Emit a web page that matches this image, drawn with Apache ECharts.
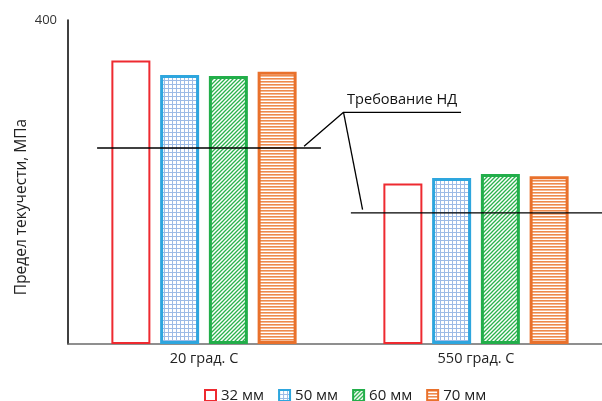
<!DOCTYPE html>
<html><head><meta charset="utf-8">
<script src="https://cdn.jsdelivr.net/npm/echarts@6/dist/echarts.min.js"></script>
<style>html,body{margin:0;padding:0;background:#fff}#c{width:602px;height:401px}</style>
</head><body><div id="c"></div>
<script>
const categories = ['20 град. С', '550 град. С'];
const seriesNames = ['32 мм', '50 мм', '60 мм', '70 мм'];
const s32 = [350, 198];
const s50 = [332, 205];
const s60 = [331, 210];
const s70 = [336, 207];
const requirement20 = [[0.107, 242], [0.93, 242]];
const requirement550 = [[1.04, 162], [1.97, 162]];
const leaderA = [[0.868, 244], [1.013, 286], [1.445, 286]];
const leaderB = [[1.013, 286], [1.083, 166]];
const annotationText = 'Требование НД';
const yAxisTitle = 'Предел текучести, МПа';
const yTicks = [400];

function pattern(w, h, draw) {
  const c = document.createElement('canvas');
  c.width = w; c.height = h;
  const g = c.getContext('2d');
  g.fillStyle = '#fff'; g.fillRect(0, 0, w, h);
  draw(g);
  return { image: c, repeat: 'repeat' };
}
const blueFill = pattern(4, 4, g => { g.fillStyle = '#9dbbe6'; g.fillRect(0, 0, 4, 1); g.fillRect(0, 0, 1, 4); });
const greenFill = pattern(4, 4, g => {
  g.strokeStyle = '#2bb24c'; g.lineWidth = 1.3;
  g.beginPath(); g.moveTo(-1, 5); g.lineTo(5, -1); g.moveTo(-1, 1); g.lineTo(1, -1); g.moveTo(3, 5); g.lineTo(5, 3); g.stroke();
});
const orangeFill = pattern(4, 3, g => { g.fillStyle = '#ee8a4c'; g.fillRect(0, 0, 4, 1.6); });

const FONT = 'Open Sans';
const chart = echarts.init(document.getElementById('c'));
const bar = (name, data, fill, border, bw) => ({
  name, type: 'bar', data, barWidth: 39, barGap: '25%',
  itemStyle: { color: fill, borderColor: border, borderWidth: bw }
});
const line = (data, w) => ({
  type: 'line', xAxisIndex: 1, data, symbol: 'none', silent: true,
  lineStyle: { color: '#000', width: w }, z: 5
});
chart.setOption({
  animation: false,
  textStyle: { fontFamily: FONT },
  grid: { left: 68, top: 20, width: 544, height: 324, containLabel: false, outerBoundsMode: 'none' },
  legend: {
    data: seriesNames, top: 383, left: 199, itemWidth: 11, itemHeight: 11, itemGap: 14,
    icon: 'rect', textStyle: { fontSize: 15, color: '#222', fontFamily: FONT }
  },
  xAxis: [{
    type: 'category', data: categories,
    axisLine: { lineStyle: { color: '#6b6b6b', width: 1.5 } }, axisTick: { show: false },
    axisLabel: { color: '#222', fontSize: 14.5, margin: 7 }
  }, {
    type: 'value', min: 0, max: 2, show: false
  }],
  yAxis: {
    type: 'value', min: 0, max: 400, interval: 400,
    axisLine: { show: true, lineStyle: { color: '#000', width: 1.5 } }, axisTick: { show: false },
    splitLine: { show: false },
    axisLabel: { color: '#333', fontSize: 13, margin: 11, formatter: v => yTicks.includes(v) ? String(v) : '' }
  },
  series: [
    bar(seriesNames[0], s32, '#fff', '#ee2a30', 2),
    bar(seriesNames[1], s50, blueFill, '#2ea6de', 3),
    bar(seriesNames[2], s60, greenFill, '#22ae4a', 3),
    bar(seriesNames[3], s70, orangeFill, '#e9712c', 3),
    line(requirement20, 1.3),
    line(requirement550, 1.3),
    line(leaderA, 1.3),
    line(leaderB, 1.3)
  ],
  graphic: [{
    type: 'text', left: 347, top: 92,
    style: { text: annotationText, fontSize: 14.6, fontFamily: FONT, fill: '#111' }
  }, {
    type: 'text', x: 22, y: 207, rotation: Math.PI / 2,
    style: { text: yAxisTitle, fontSize: 15.5, fontFamily: FONT, fill: '#222', align: 'center', verticalAlign: 'middle' }
  }]
});
</script></body></html>
